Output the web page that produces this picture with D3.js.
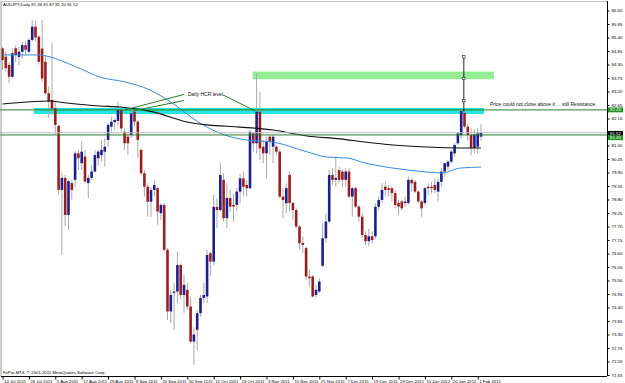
<!DOCTYPE html>
<html>
<head>
<meta charset="utf-8">
<script src="https://cdn.jsdelivr.net/npm/d3@7"></script>
<style>
  body { margin: 0; background: #fff; }
  svg { display: block; font-family: "Liberation Sans", Arial, sans-serif; }
</style>
</head>
<body>
<div id="chart"></div>
<script>
const symbolTitle = "AUDJPY,Daily  81.36 81.87 81.20 81.52";
const copyright = "FxPro MT4, \u00a9 2001-2011 MetaQuotes Software Corp.";

const dateLabels = ["14 Jul 2011", "26 Jul 2011", "5 Aug 2011", "17 Aug 2011", "29 Aug 2011", "8 Sep 2011",
  "20 Sep 2011", "30 Sep 2011", "12 Oct 2011", "24 Oct 2011", "3 Nov 2011", "15 Nov 2011", "25 Nov 2011",
  "7 Dec 2011", "19 Dec 2011", "29 Dec 2011", "10 Jan 2012", "20 Jan 2012", "1 Feb 2012"];
const dateTickBars = [0, 8, 16, 24, 32, 40, 48, 56, 64, 72, 80, 88, 96, 104, 112, 120, 128, 136, 144];

const priceTicks = [86.50, 85.95, 85.40, 84.85, 84.30, 83.75, 83.20, 82.65, 82.10, 81.55, 81.00, 80.45,
  79.90, 79.35, 78.80, 78.25, 77.70, 77.15, 76.60, 76.05, 75.50, 74.95, 74.40, 73.85, 73.30, 72.75, 72.20, 71.65];

// daily bars, oldest first
const opens = [84.96,84.62,84.28,83.80,84.96,84.61,84.82,85.09,84.82,85.30,85.84,85.43,84.95,84.41,83.13,82.86,82.52,81.80,79.19,79.68,
  78.17,79.47,79.60,80.68,80.28,80.55,79.47,79.68,79.94,80.48,80.61,80.75,81.23,81.77,81.95,82.00,82.45,81.56,81.36,81.43,
  82.38,81.97,80.82,79.87,79.32,78.71,79.19,79.26,78.24,78.58,76.75,74.24,75.00,75.05,76.13,74.91,75.12,74.44,73.01,73.49,
  74.17,74.79,74.85,76.61,76.27,78.50,78.37,79.60,78.04,78.86,78.58,78.58,79.12,79.66,79.39,79.26,81.50,81.09,82.38,80.95,
  80.68,81.36,80.95,80.95,80.75,78.92,78.65,79.80,78.66,78.37,77.70,77.03,76.82,75.66,75.66,74.91,75.05,76.10,77.22,77.90,
  79.80,79.60,80.00,79.94,79.60,79.94,78.92,79.26,78.51,78.10,77.35,77.10,77.30,77.30,78.50,78.78,79.32,79.26,79.26,79.06,
  78.66,78.72,78.66,78.66,79.60,79.52,79.12,78.72,78.66,79.32,79.32,79.39,79.12,79.52,79.94,80.14,80.34,80.68,81.09,81.43,
  82.33,81.77,81.43,80.90,80.95,81.36];
const highs = [85.02,84.82,84.40,84.96,85.09,85.02,85.22,85.25,85.37,86.11,86.08,85.50,86.11,84.69,83.40,85.17,82.79,81.86,79.90,79.80,
  79.60,79.60,80.78,80.82,81.16,80.82,79.80,80.20,80.82,80.82,81.23,81.29,81.91,82.17,82.10,82.79,82.58,81.70,81.50,82.45,
  82.45,82.04,80.88,80.00,79.46,79.32,79.60,79.32,78.65,78.65,76.82,75.12,75.40,76.68,76.20,75.73,75.40,74.85,73.60,74.30,
  74.91,75.40,76.75,76.68,78.99,78.84,80.28,79.87,79.46,79.20,79.05,79.26,79.87,79.94,79.60,81.63,81.56,83.94,83.19,81.23,
  81.36,81.43,81.43,81.02,80.82,79.26,79.46,79.94,78.70,78.44,77.76,77.29,76.89,75.93,75.73,75.32,75.59,77.83,78.24,80.00,
  80.07,80.55,80.14,80.00,80.07,80.07,79.32,79.32,78.58,78.24,77.50,77.60,77.50,78.65,78.92,79.46,79.52,79.39,79.32,79.19,
  78.78,78.78,78.92,79.73,79.66,79.60,79.19,78.78,79.32,79.46,79.52,79.66,79.66,80.07,80.28,80.41,80.82,81.09,81.56,82.45,
  82.45,81.90,81.70,81.65,81.70,81.87];
const lows = [84.08,84.00,83.53,83.74,84.40,84.28,84.55,84.70,84.76,85.23,85.25,84.30,83.60,83.06,82.11,82.24,81.43,78.99,76.54,77.72,
  77.56,78.80,79.30,80.00,80.00,79.46,78.86,79.60,79.90,80.18,80.34,80.14,80.95,81.57,81.63,81.84,81.57,80.82,80.61,81.31,
  81.77,80.48,79.80,78.92,78.10,78.10,78.92,77.76,77.97,76.68,73.89,73.76,73.49,74.58,74.75,74.17,74.30,72.95,72.06,72.66,
  74.03,74.58,74.58,75.66,76.13,77.64,78.31,77.90,77.64,78.30,77.90,78.31,78.65,78.92,78.92,79.19,80.75,80.68,80.41,80.28,
  79.66,80.61,80.28,80.61,78.86,78.04,78.24,78.31,77.97,77.64,76.75,76.61,75.52,75.25,74.80,74.80,74.98,76.06,77.03,77.83,
  79.39,79.32,79.46,79.32,79.32,78.86,78.10,78.44,77.90,77.23,76.95,76.90,77.00,77.20,78.37,78.65,78.92,78.92,78.72,78.44,
  78.17,78.37,78.51,78.58,79.12,79.06,78.66,78.10,78.58,78.99,79.06,79.06,78.72,79.32,79.73,80.00,80.28,80.55,81.02,81.29,
  81.70,81.20,80.60,80.70,80.65,81.20];
const closes = [84.48,84.15,83.80,84.76,84.69,84.82,85.09,84.90,85.30,85.84,85.40,84.41,83.73,83.13,82.79,82.50,81.84,79.19,79.68,78.17,
  79.55,79.19,80.68,80.48,80.75,79.53,79.68,79.94,80.61,80.75,80.82,80.95,81.84,81.97,82.04,82.45,81.70,81.09,81.09,82.31,
  81.97,81.23,79.87,79.32,78.71,79.19,79.39,78.31,78.58,76.75,74.24,74.91,75.05,76.13,74.91,75.32,74.44,73.01,73.30,74.17,
  74.79,74.91,76.54,76.27,78.50,78.37,79.80,78.04,78.86,78.51,78.51,79.12,79.66,79.32,79.26,81.56,81.09,82.38,80.88,80.68,
  81.16,81.16,81.36,80.75,78.92,78.78,79.26,78.66,78.37,77.70,77.02,76.95,75.66,75.59,74.85,75.12,75.46,77.22,77.90,79.80,
  79.60,79.68,79.60,79.60,79.94,78.92,79.26,78.51,78.10,77.35,77.10,77.30,77.15,78.50,78.78,79.19,79.19,79.19,79.06,78.58,
  78.51,78.44,78.72,79.60,79.46,79.12,78.72,78.44,79.26,79.26,79.26,79.19,79.52,79.94,80.28,80.34,80.75,81.02,81.50,82.41,
  81.77,81.43,80.90,81.45,81.50,81.52];

// moving averages (bar index, price)
const maBlueBars = [0, 10.5, 14.4, 19.5, 24.4, 29.5, 37.1, 44.7, 50.8, 59.2, 65, 73.5, 82, 92.3, 98.3, 104.4, 109.8, 118.3, 128.6, 133.2, 138.6, 145];
const maBlueValues = [84.69, 84.69, 84.61, 84.36, 84.08, 83.79, 83.59, 83.26, 82.79, 81.97, 81.55, 81.23, 81.14, 80.74, 80.53, 80.49, 80.29, 80.08, 79.92, 79.88, 80.08, 80.12];
const maBlackBars = [0, 14.4, 19.5, 29.5, 35.6, 45.6, 55.9, 62, 72, 82, 92.3, 102.3, 109.8, 118.3, 128.6, 138.6, 145];
const maBlackValues = [82.69, 82.81, 82.73, 82.61, 82.57, 82.37, 81.96, 81.84, 81.75, 81.63, 81.39, 81.27, 81.14, 81.02, 80.94, 80.90, 80.90];

const levelPrices = [82.45, 81.43];
const bidPrice = 81.52;

// drawn objects, in bar index / price
const hcrZone = { from: 9.5, to: 145.9, top: 82.53, bottom: 82.28 };
const upperZone = { from: 75.8, to: 148.9, top: 84.01, bottom: 83.70 };
const pointerLines = [
  [[37.1, 82.45], [55.0, 83.08]],
  [[39.5, 82.41], [55.0, 82.83]],
  [[66.8, 83.06], [76.5, 82.41]]
];
const vLineBar = 139.8;
const vLinePrices = [84.61, 82.38];
const vLineHandles = [84.61, 83.73, 82.83];
const notes = [
  { bar: 56.2, price: 83.03, text: "Daily HCR level" },
  { bar: 147.7, price: 82.59, text: "Price could not close above it . . still Resistance" }
];

const W = 625, H = 383;
const axisX = 607, axisY = 376;
const svg = d3.select("#chart").append("svg").attr("width", W).attr("height", H);

const x = d3.scaleLinear().domain([0, 145]).range([2.5, 2.5 + 3.3 * 145]);
const y = d3.scaleLinear().domain([71.65, 86.50]).range([375, 10.5]);

const plot = svg.append("g");

// background zones
plot.append("rect")
  .attr("x", x(hcrZone.from)).attr("y", y(hcrZone.top))
  .attr("width", x(hcrZone.to) - x(hcrZone.from)).attr("height", y(hcrZone.bottom) - y(hcrZone.top))
  .attr("fill", "#27e4dc");
plot.append("rect")
  .attr("x", x(upperZone.from)).attr("y", y(upperZone.top))
  .attr("width", x(upperZone.to) - x(upperZone.from)).attr("height", y(upperZone.bottom) - y(upperZone.top))
  .attr("fill", "#94ec94");

// candles
const bars = d3.range(opens.length);
const candle = plot.append("g").selectAll("g").data(bars).enter().append("g");
candle.append("line")
  .attr("x1", i => x(i)).attr("x2", i => x(i))
  .attr("y1", i => y(highs[i])).attr("y2", i => y(lows[i]))
  .attr("stroke", "#a9a9a9").attr("stroke-width", 1);
candle.append("rect")
  .attr("x", i => x(i) - 1.3).attr("width", 2.6)
  .attr("y", i => y(Math.max(opens[i], closes[i])))
  .attr("height", i => Math.max(1, Math.abs(y(opens[i]) - y(closes[i]))))
  .attr("fill", i => closes[i] >= opens[i] ? "#1e1e8e" : "#9a1e1e");

// moving averages
const maLine = d3.line().x(d => x(d[0])).y(d => y(d[1])).curve(d3.curveMonotoneX);
plot.append("path").attr("d", maLine(maBlueBars.map((b, i) => [b, maBlueValues[i]])))
  .attr("fill", "none").attr("stroke", "#3b8ad4").attr("stroke-width", 1);
plot.append("path").attr("d", maLine(maBlackBars.map((b, i) => [b, maBlackValues[i]])))
  .attr("fill", "none").attr("stroke", "#111").attr("stroke-width", 1.1);

// horizontal levels and bid line
plot.append("line").attr("x1", 0).attr("x2", axisX).attr("y1", y(bidPrice)).attr("y2", y(bidPrice))
  .attr("stroke", "#bdbdbd").attr("stroke-width", 1);
plot.selectAll(".level").data(levelPrices).enter().append("line")
  .attr("x1", 0).attr("x2", axisX).attr("y1", d => y(d)).attr("y2", d => y(d))
  .attr("stroke", "#2a7d2a").attr("stroke-width", 1);

// annotation pointers
plot.selectAll(".ptr").data(pointerLines).enter().append("line")
  .attr("x1", d => x(d[0][0])).attr("y1", d => y(d[0][1]))
  .attr("x2", d => x(d[1][0])).attr("y2", d => y(d[1][1]))
  .attr("stroke", "#2a7d2a").attr("stroke-width", 1);

// vertical trend line with handles
plot.append("line").attr("x1", x(vLineBar)).attr("x2", x(vLineBar))
  .attr("y1", y(vLinePrices[0])).attr("y2", y(vLinePrices[1]))
  .attr("stroke", "#222").attr("stroke-width", 1);
plot.selectAll(".handle").data(vLineHandles).enter().append("rect")
  .attr("x", x(vLineBar) - 1.2).attr("y", d => y(d) - 1.2).attr("width", 2.4).attr("height", 2.4)
  .attr("fill", "#fff").attr("stroke", "#222").attr("stroke-width", 0.6);

plot.selectAll(".note").data(notes).enter().append("text")
  .attr("x", d => x(d.bar)).attr("y", d => y(d.price))
  .attr("font-size", 5).attr("fill", "#111").text(d => d.text);

// frame
svg.append("line").attr("x1", 1).attr("x2", 1).attr("y1", 1).attr("y2", axisY).attr("stroke", "#9a9a9a");
svg.append("line").attr("x1", 1).attr("x2", axisX).attr("y1", 1.5).attr("y2", 1.5).attr("stroke", "#c8c8c8");
svg.append("line").attr("x1", axisX + 0.5).attr("x2", axisX + 0.5).attr("y1", 1).attr("y2", axisY).attr("stroke", "#000");
svg.append("line").attr("x1", 1).attr("x2", axisX).attr("y1", axisY + 0.5).attr("y2", axisY + 0.5).attr("stroke", "#000");

// price axis
const yAxis = svg.append("g").attr("transform", `translate(${axisX + 0.5},0)`)
  .call(d3.axisRight(y).tickValues(priceTicks).tickFormat(d3.format(".2f")).tickSize(2).tickPadding(2));
yAxis.select(".domain").remove();
yAxis.attr("font-size", 4.4).attr("font-family", null);

// date axis
const xAxis = svg.append("g").attr("transform", `translate(0,${axisY + 0.5})`)
  .call(d3.axisBottom(x).tickValues(dateTickBars).tickFormat((d, i) => dateLabels[i]).tickSize(3).tickPadding(1));
xAxis.select(".domain").remove();
xAxis.attr("font-size", 4.3).attr("font-family", null);
xAxis.selectAll("text").attr("text-anchor", "start").attr("x", 1).attr("dy", "0.5em");

// price labels on the axis
const tags = [
  { py: y(levelPrices[0]), text: levelPrices[0].toFixed(2), fill: "#1f8f1f" },
  { py: y(bidPrice) + 0.6, text: bidPrice.toFixed(2), fill: "#000" },
  { py: y(bidPrice) + 5, text: levelPrices[1].toFixed(2), fill: "#1f8f1f" }
];
const tag = svg.selectAll(".tag").data(tags).enter().append("g");
tag.append("rect").attr("x", axisX + 1).attr("y", d => d.py - 2.4).attr("width", 15).attr("height", 4.8).attr("fill", d => d.fill);
tag.append("text").attr("x", axisX + 3).attr("y", d => d.py + 1.5).attr("font-size", 4.4).attr("fill", "#fff").text(d => d.text);

svg.append("text").attr("x", 3).attr("y", 6.2).attr("font-size", 4.3).attr("fill", "#000").text(symbolTitle);
svg.append("text").attr("x", 3).attr("y", 373.8).attr("font-size", 4.3).attr("fill", "#000").text(copyright);
</script>
</body>
</html>
